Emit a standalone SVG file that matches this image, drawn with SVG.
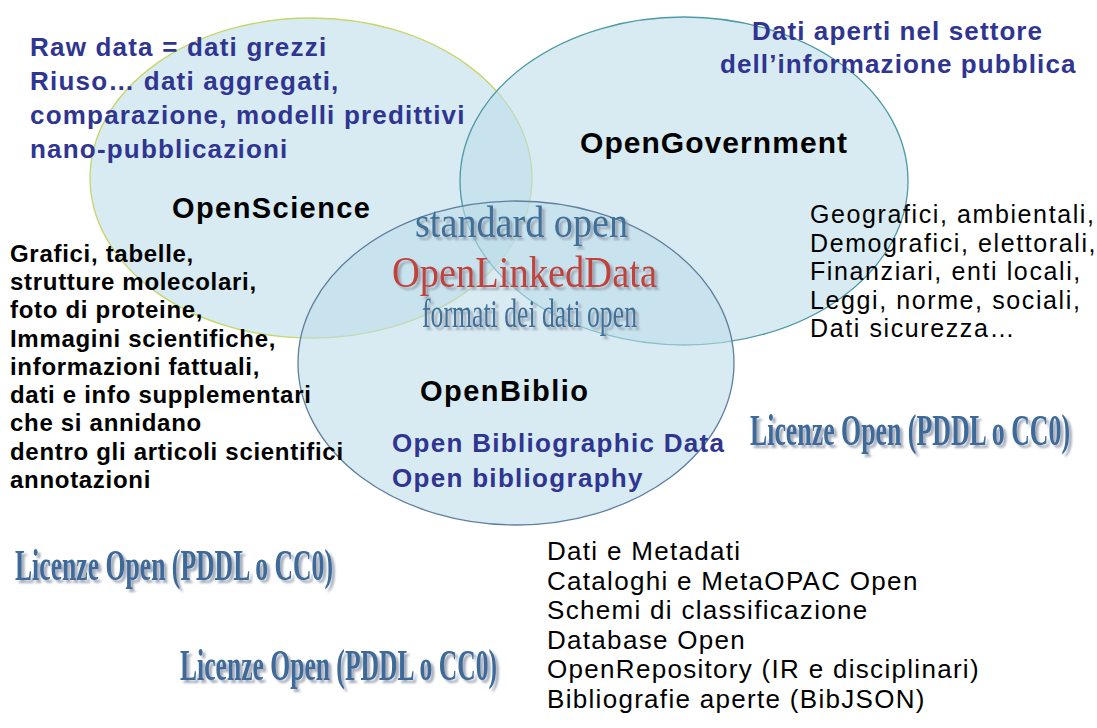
<svg xmlns="http://www.w3.org/2000/svg" width="1097" height="728" viewBox="0 0 1097 728">
  <defs>
    <filter id="shadow" x="-10%" y="-30%" width="120%" height="160%">
      <feDropShadow dx="3" dy="3" stdDeviation="1.2" flood-color="#8e97a8" flood-opacity="0.8"/>
    </filter>
  </defs>
  <style>
    .circle { fill: rgb(188,221,232); fill-opacity: 0.58; stroke-width: 1.3; }
    .blue { font-family: "Liberation Sans", Arial, sans-serif; font-weight: bold; font-size: 26px; fill: #2f3591; }
    .title { font-family: "Liberation Sans", Arial, sans-serif; font-weight: bold; fill: #000; }
    .listb { font-family: "Liberation Sans", Arial, sans-serif; font-weight: bold; font-size: 24px; fill: #000; letter-spacing: 0.7px; }
    .listr { font-family: "Liberation Sans", Arial, sans-serif; font-size: 25px; fill: #000; letter-spacing: 1.6px; }
    .listf { font-family: "Liberation Sans", Arial, sans-serif; font-size: 26px; fill: #000; letter-spacing: 1.3px; }
    .serif { font-family: "Liberation Serif", "Times New Roman", serif; filter: url(#shadow); }
    .lic { font-family: "Liberation Serif", "Times New Roman", serif; font-weight: bold; font-size: 44px; fill: #3d6a99; filter: url(#shadow); }
  </style>
  <rect width="1097" height="728" fill="#ffffff"/>

  <g id="connectors"/>

  <g id="openscience">
    <ellipse class="circle" cx="311" cy="178" rx="221" ry="160" stroke="#c5d66a"/>
  </g>
  <g id="opengovernment">
    <ellipse class="circle" cx="684" cy="181" rx="224" ry="164" stroke="#4d9aa6"/>
  </g>
  <g id="openbiblio">
    <ellipse class="circle" cx="516" cy="363" rx="218" ry="162" stroke="#5f7f9f"/>
  </g>

  <g id="openscience-labels">
    <text class="blue" style="letter-spacing:1.2px">
      <tspan x="30" y="56">Raw data = dati grezzi</tspan>
      <tspan x="30" y="90">Riuso… dati aggregati,</tspan>
      <tspan x="30" y="124">comparazione, modelli predittivi</tspan>
      <tspan x="30" y="158">nano-pubblicazioni</tspan>
    </text>
    <text class="title" x="172" y="218" font-size="29" textLength="198" lengthAdjust="spacing">OpenScience</text>
    <text class="listb">
      <tspan x="10" y="262">Grafici, tabelle,</tspan>
      <tspan x="10" y="290">strutture molecolari,</tspan>
      <tspan x="10" y="318">foto di proteine,</tspan>
      <tspan x="10" y="347">Immagini scientifiche,</tspan>
      <tspan x="10" y="375">informazioni fattuali,</tspan>
      <tspan x="10" y="403">dati e info supplementari</tspan>
      <tspan x="10" y="431">che si annidano</tspan>
      <tspan x="10" y="460">dentro gli articoli scientifici</tspan>
      <tspan x="10" y="488">annotazioni</tspan>
    </text>
    <text class="lic" x="15" y="580" textLength="318" lengthAdjust="spacingAndGlyphs">Licenze Open (PDDL o CC0)</text>
  </g>

  <g id="opengovernment-labels">
    <text class="blue" style="letter-spacing:1.1px">
      <tspan x="752" y="40">Dati aperti nel settore</tspan>
      <tspan x="720" y="73">dell’informazione pubblica</tspan>
    </text>
    <text class="title" x="580" y="153" font-size="30" textLength="267" lengthAdjust="spacing">OpenGovernment</text>
    <text class="listr">
      <tspan x="810" y="223">Geografici, ambientali,</tspan>
      <tspan x="810" y="252">Demografici, elettorali,</tspan>
      <tspan x="810" y="280">Finanziari, enti locali,</tspan>
      <tspan x="810" y="309">Leggi, norme, sociali,</tspan>
      <tspan x="810" y="337">Dati sicurezza…</tspan>
    </text>
    <text class="lic" x="750" y="445" textLength="320" lengthAdjust="spacingAndGlyphs">Licenze Open (PDDL o CC0)</text>
  </g>

  <g id="openlinkeddata">
    <text class="serif" x="415" y="237" font-size="44" fill="#3f6f98" textLength="213" lengthAdjust="spacingAndGlyphs">standard open</text>
    <text class="serif" x="392" y="287" font-size="44" fill="#c0433a" textLength="265" lengthAdjust="spacingAndGlyphs">OpenLinkedData</text>
    <text class="serif" x="422" y="327" font-size="40" fill="#3f6f98" textLength="215" lengthAdjust="spacingAndGlyphs">formati dei dati open</text>
  </g>

  <g id="openbiblio-labels">
    <text class="title" x="420" y="401" font-size="29" textLength="168" lengthAdjust="spacing">OpenBiblio</text>
    <text class="blue" style="letter-spacing:1.3px">
      <tspan x="392" y="452">Open Bibliographic Data</tspan>
      <tspan x="392" y="487">Open bibliography</tspan>
    </text>
    <text class="listf">
      <tspan x="547" y="560">Dati e Metadati</tspan>
      <tspan x="547" y="590">Cataloghi e MetaOPAC Open</tspan>
      <tspan x="547" y="619">Schemi di classificazione</tspan>
      <tspan x="547" y="649">Database Open</tspan>
      <tspan x="547" y="678">OpenRepository (IR e disciplinari)</tspan>
      <tspan x="547" y="708">Bibliografie aperte (BibJSON)</tspan>
    </text>
    <text class="lic" x="180" y="680" textLength="317" lengthAdjust="spacingAndGlyphs">Licenze Open (PDDL o CC0)</text>
  </g>
</svg>
